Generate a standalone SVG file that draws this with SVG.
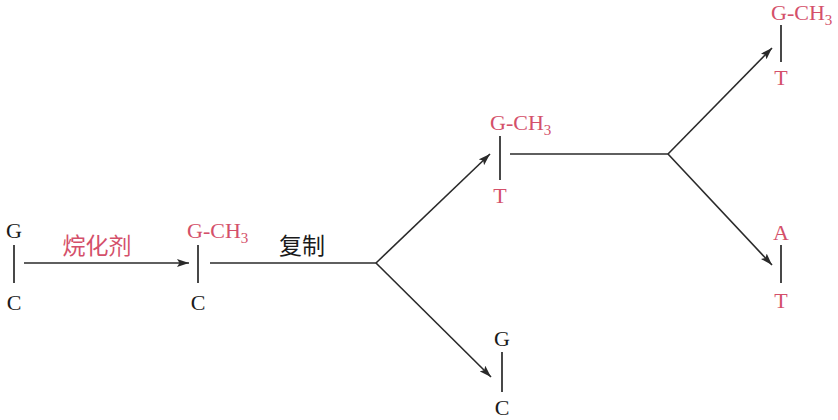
<svg xmlns="http://www.w3.org/2000/svg" width="838" height="420" viewBox="0 0 838 420">
<defs>
<marker id="ah" viewBox="0 0 12 8" refX="12" refY="4" markerWidth="12" markerHeight="8" markerUnits="userSpaceOnUse" orient="auto">
<path d="M0,0 L12,4 L0,8 L2.5,4 Z" fill="#2a2a2a"/>
</marker>
</defs>
<style>
.b{font-family:"Liberation Serif","Times New Roman",serif;font-size:22px;fill:#1a1a1a}
.r{font-family:"Liberation Serif","Times New Roman",serif;font-size:22px;fill:#d4506a}
.sub{font-size:15px}
.cn{font-family:"Noto Sans CJK SC",sans-serif;font-size:23px}
.bond{stroke:#1a1a1a;stroke-width:1.6;fill:none}
.line{stroke:#2a2a2a;stroke-width:1.6;fill:none}
</style>
<rect width="838" height="420" fill="#ffffff"/>
<g id="node-gc">
<text class="b" x="14" y="238" text-anchor="middle">G</text>
<line class="bond" x1="14" y1="245" x2="14" y2="283"/>
<text class="b" x="14" y="310" text-anchor="middle">C</text>
</g>
<g id="node-gch3-c">
<text class="r" x="187" y="238">G-CH<tspan class="sub" dy="5">3</tspan></text>
<line class="bond" x1="198" y1="245" x2="198" y2="283"/>
<text class="b" x="198" y="310" text-anchor="middle">C</text>
</g>
<g id="node-gc-2">
<text class="b" x="502" y="346" text-anchor="middle">G</text>
<line class="bond" x1="502" y1="352" x2="502" y2="392"/>
<text class="b" x="502" y="415" text-anchor="middle">C</text>
</g>
<g id="node-gch3-t">
<text class="r" x="490" y="130">G-CH<tspan class="sub" dy="5">3</tspan></text>
<line class="bond" x1="500" y1="136" x2="500" y2="180"/>
<text class="r" x="500" y="203" text-anchor="middle">T</text>
</g>
<g id="node-gch3-t-2">
<text class="r" x="771" y="20">G-CH<tspan class="sub" dy="5">3</tspan></text>
<line class="bond" x1="781" y1="25" x2="781" y2="62"/>
<text class="r" x="781" y="85" text-anchor="middle">T</text>
</g>
<g id="node-at">
<text class="r" x="781" y="240" text-anchor="middle">A</text>
<line class="bond" x1="781" y1="245" x2="781" y2="283"/>
<text class="r" x="781" y="308" text-anchor="middle">T</text>
</g>
<g id="connectors">
<line class="line" x1="24" y1="263" x2="189" y2="263" marker-end="url(#ah)"/>
<text class="cn" x="97" y="254" text-anchor="middle" fill="#d4506a">烷化剂</text>
<polyline class="line" points="210,263 376,263"/>
<text class="cn" x="302" y="254" text-anchor="middle" fill="#1a1a1a">复制</text>
<line class="line" x1="376" y1="263" x2="490" y2="154" marker-end="url(#ah)"/>
<line class="line" x1="376" y1="263" x2="491" y2="377" marker-end="url(#ah)"/>
<line class="line" x1="510" y1="154" x2="668" y2="154"/>
<line class="line" x1="668" y1="154" x2="772" y2="48" marker-end="url(#ah)"/>
<line class="line" x1="668" y1="154" x2="772" y2="265" marker-end="url(#ah)"/>
</g>
</svg>
